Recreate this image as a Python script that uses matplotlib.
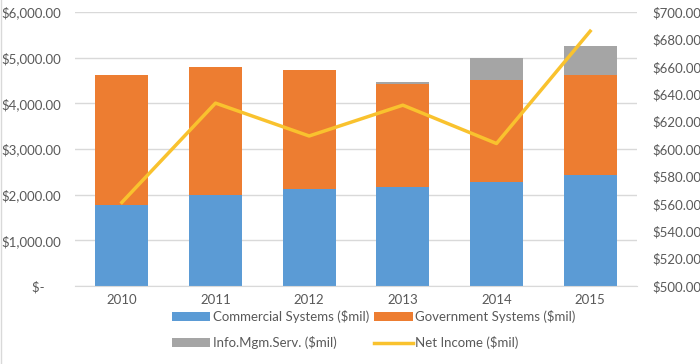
import matplotlib
matplotlib.use("Agg")
from matplotlib import pyplot as plt
from matplotlib.ticker import FuncFormatter
import numpy as np

# Data
years = ["2010", "2011", "2012", "2013", "2014", "2015"]
commercial = [1775, 1995, 2125, 2170, 2280, 2430]
government = [2845, 2800, 2605, 2253, 2230, 2190]
info_mgm = [0, 0, 0, 44, 482, 635]
net_income = [561, 633.5, 609.5, 632, 604, 686]

plt.rcParams["font.family"] = ["Lato", "DejaVu Sans"]
text_col = "#595959"
fs = 9.5

fig = plt.figure(figsize=(7, 3.64), dpi=100)
ax = fig.add_axes([75/700, 1-286/364, (637-75)/700, (286-12)/364])

x = np.arange(len(years))
w = 0.565
b1 = ax.bar(x, commercial, w, color="#5B9BD5", label="Commercial Systems ($mil)", zorder=2)
b2 = ax.bar(x, government, w, bottom=commercial, color="#ED7D31", label="Government Systems ($mil)", zorder=2)
bottom3 = np.array(commercial) + np.array(government)
b3 = ax.bar(x, info_mgm, w, bottom=bottom3, color="#A5A5A5", label="Info.Mgm.Serv. ($mil)", zorder=2)

ax.set_ylim(0, 6000)
ax.set_xlim(-0.5, 5.5)
ax.set_yticks(np.arange(0, 6001, 1000))
ax.yaxis.set_major_formatter(FuncFormatter(lambda v, p: "$-     " if v == 0 else "${:,.2f}".format(v)))
ax.grid(axis="y", color="#D9D9D9", linewidth=1, zorder=0)
ax.set_xticks(x)
ax.set_xticklabels(years)
for s in ax.spines.values():
    s.set_visible(False)
ax.spines["bottom"].set_visible(True)
ax.spines["bottom"].set_color("#D9D9D9")
ax.tick_params(axis="both", length=0, colors=text_col, labelsize=fs)
ax.tick_params(axis="x", pad=6)
ax.tick_params(axis="y", pad=10)

ax2 = ax.twinx()
ln, = ax2.plot(x, net_income, color="#F9C22E", linewidth=2.5, label="Net Income ($mil)", zorder=3)
ax2.set_ylim(500, 700)
ax2.set_yticks(np.arange(500, 701, 20))
ax2.yaxis.set_major_formatter(FuncFormatter(lambda v, p: "${:,.2f}".format(v)))
for s in ax2.spines.values():
    s.set_visible(False)
ax2.tick_params(axis="y", length=0, colors=text_col, labelsize=fs, pad=11)

# column-major fill: first column Commercial / Info, second Government / Net Income
handles = [b1, b3, b2, ln]
leg = fig.legend(handles, [h.get_label() for h in handles], ncol=2,
                 loc="upper left", bbox_to_anchor=(172/700, 1-310/364),
                 frameon=False, fontsize=fs, handlelength=2.9, handleheight=0.6,
                 handletextpad=0.2, columnspacing=0.4, labelspacing=1.0,
                 borderpad=0, borderaxespad=0)
for t in leg.get_texts():
    t.set_color(text_col)

# light frame on the left edge
fig.add_artist(plt.Line2D([0.001, 0.001], [0, 1], color="#D9D9D9", linewidth=1, transform=fig.transFigure))

fig.savefig("out.png", dpi=100)
